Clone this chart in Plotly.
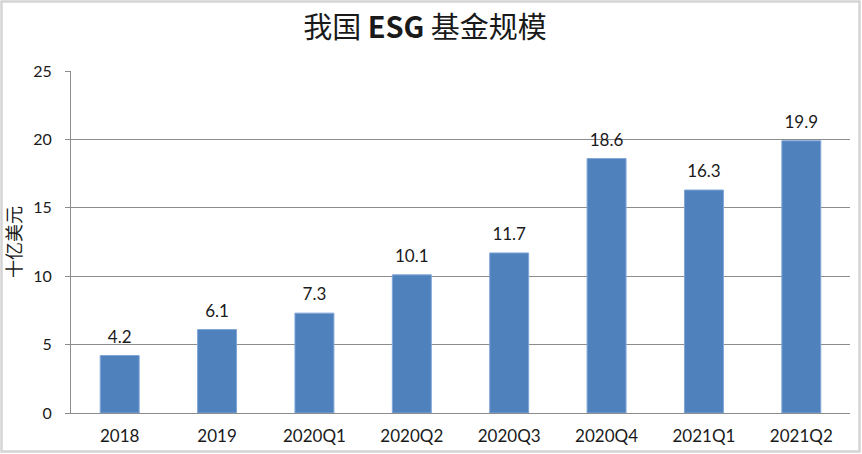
import plotly.graph_objects as go

categories = ["2018", "2019", "2020Q1", "2020Q2", "2020Q3", "2020Q4", "2021Q1", "2021Q2"]
values = [4.2, 6.1, 7.3, 10.1, 11.7, 18.6, 16.3, 19.9]
labels = ["4.2", "6.1", "7.3", "10.1", "11.7", "18.6", "16.3", "19.9"]
y_ticks = [0, 5, 10, 15, 20, 25]

W, H = 862, 454
ml, mr, mt, mb = 71, 12, 71, 41
pw, ph = W - ml - mr, H - mt - mb

font_fam = "Lato, 'Noto Sans CJK SC', sans-serif"
cjk = "'Noto Sans CJK SC', sans-serif"

fig = go.Figure()
fig.add_trace(go.Bar(
    x=categories, y=values,
    marker=dict(color="#4F81BD", line=dict(color="#7FA6D8", width=1)),
    width=0.40, hoverinfo="skip",
))
fig.add_trace(go.Scatter(
    x=categories, y=values, mode="markers+text", text=labels, textposition="top center",
    marker=dict(size=12, opacity=0), cliponaxis=False, hoverinfo="skip",
    textfont=dict(size=17, color="#1a1a1a", family=font_fam),
))

fig.update_layout(
    width=W, height=H,
    margin=dict(l=ml, r=mr, t=mt, b=mb, autoexpand=False),
    paper_bgcolor="white", plot_bgcolor="white",
    showlegend=False,
    title=dict(text="我国 <b>ESG</b> 基金规模", x=(425 - ml) / pw, xref="paper", xanchor="center",
               y=1 - 28 / H, yanchor="middle",
               font=dict(size=29, color="#1a1a1a", family=cjk)),
    font=dict(family=font_fam, size=17, color="#1a1a1a"),
    xaxis=dict(type="category", showgrid=False, showline=True, linecolor="#8c8c8c", linewidth=1, ticks="",
               tickfont=dict(size=17, family=font_fam), ticklabelstandoff=8),
    yaxis=dict(range=[0, 25], tickvals=y_ticks, showgrid=True, gridcolor="#8c8c8c", gridwidth=1,
               showline=True, linecolor="#8c8c8c", linewidth=1, ticks="outside", ticklen=5,
               tickcolor="#8c8c8c", zeroline=False, ticklabelstandoff=10,
               tickfont=dict(size=16, family=font_fam),
               title=dict(text="十亿美元", standoff=8,
                          font=dict(size=18, family=cjk, color="#1a1a1a"))),
    shapes=[dict(type="rect", xref="paper", yref="paper",
                 x0=(-ml + 1.5) / pw, x1=1 + (mr - 2.5) / pw,
                 y0=(-mb + 2.5) / ph, y1=1 + (mt - 1.5) / ph,
                 line=dict(color="#d4d4d4", width=2.5), fillcolor="rgba(0,0,0,0)", layer="below")],
)

fig.write_html("out.html", config={"displayModeBar": False},
               post_script="document.body.style.margin='0';")
